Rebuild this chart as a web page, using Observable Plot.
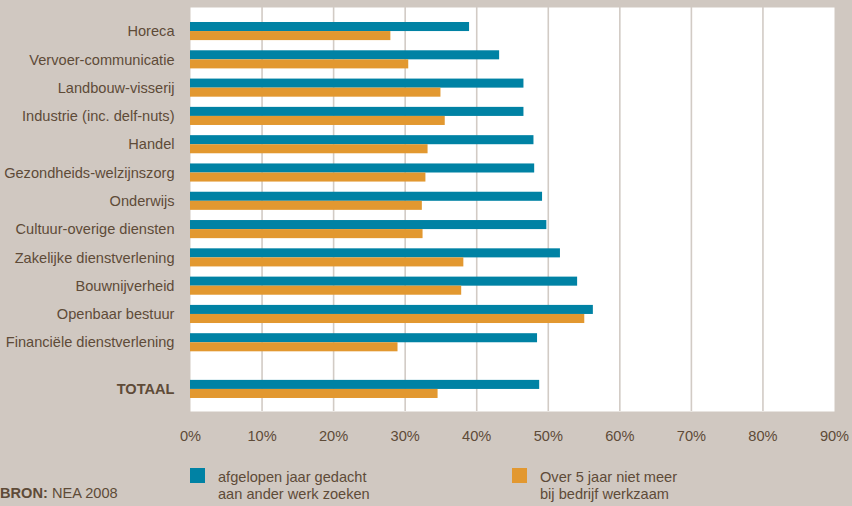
<!DOCTYPE html>
<html>
<head>
<meta charset="utf-8">
<script src="https://cdn.jsdelivr.net/npm/d3@7"></script>
<script src="https://cdn.jsdelivr.net/npm/@observablehq/plot@0.6"></script>
<style>
  html, body { margin: 0; padding: 0; background: #d0c8c1; }
  #wrap { position: relative; width: 852px; height: 506px; overflow: hidden;
    font-family: "Liberation Sans", Arial, sans-serif; color: #5e4b38; }
  #chart svg { display: block; }
  .leg { position: absolute; top: 468px; font-size: 14.6px; line-height: 17px; }
  .leg .sw { position: absolute; left: 0; top: 0; width: 15px; height: 15px; }
  .leg .tx { position: absolute; top: 1px; white-space: nowrap; }
  #bron { position: absolute; left: 0; top: 485px; font-size: 14.6px; }
</style>
</head>
<body>
<div id="wrap">
  <div id="chart"></div>
  <div class="leg" style="left:190px"><div class="sw" style="background:#0082a4"></div><div class="tx" style="left:28px">afgelopen jaar gedacht<br>aan ander werk zoeken</div></div>
  <div class="leg" style="left:512px"><div class="sw" style="background:#e29830"></div><div class="tx" style="left:28px">Over 5 jaar niet meer<br>bij bedrijf werkzaam</div></div>
  <div id="bron"><b>BRON:</b> NEA 2008</div>
</div>
<script>
const categories = [
  "Horeca", "Vervoer-communicatie", "Landbouw-visserij", "Industrie (inc. delf-nuts)",
  "Handel", "Gezondheids-welzijnszorg", "Onderwijs", "Cultuur-overige diensten",
  "Zakelijke dienstverlening", "Bouwnijverheid", "Openbaar bestuur",
  "Financiële dienstverlening", "TOTAAL"
];
const gedachtZoeken = [39.0, 43.2, 46.6, 46.6, 48.0, 48.1, 49.2, 49.8, 51.7, 54.1, 56.3, 48.5, 48.8];
const nietMeerWerkzaam = [28.0, 30.5, 35.0, 35.6, 33.2, 32.9, 32.4, 32.5, 38.2, 37.9, 55.1, 29.0, 34.6];
const xTicks = [0, 10, 20, 30, 40, 50, 60, 70, 80, 90];

const totalGap = 1.65; // layout: extra spacing before the total row
const rows = categories.map((c, i) => ({
  cat: c,
  pos: c === "TOTAAL" ? i - 1 + totalGap : i,
  a: gedachtZoeken[i] / 100,
  b: nietMeerWerkzaam[i] / 100
}));
const half = 0.32;
const font = '"Liberation Sans", Arial, sans-serif';

const chart = Plot.plot({
  width: 852,
  height: 460,
  marginLeft: 190,
  marginRight: 18,
  marginTop: 7,
  marginBottom: 49,
  style: { background: "transparent", fontFamily: font, color: "#5e4b38" },
  x: { domain: [0, 0.9], axis: null },
  y: { domain: [-0.85, 13.43], reverse: true, axis: null },
  marks: [
    Plot.frame({ fill: "white", stroke: null }),
    Plot.gridX(xTicks.slice(1, -1).map(t => t / 100), { stroke: "#d2cbc5", strokeOpacity: 1, strokeWidth: 1.6 }),
    Plot.axisX(xTicks.map(t => t / 100), { tickSize: 0, tickPadding: 19, fontSize: 14.6, tickFormat: d => Math.round(d * 100) + "%", fill: "#5e4b38" }),
    Plot.rect(rows, { x1: 0, x2: "a", y1: d => d.pos - half, y2: "pos", fill: "#0082a4" }),
    Plot.rect(rows, { x1: 0, x2: "b", y1: "pos", y2: d => d.pos + half, fill: "#e29830" }),
    Plot.text(rows.filter(d => d.cat !== "TOTAAL"), { x: 0, y: "pos", text: "cat", textAnchor: "end", dx: -16, fontSize: 14.6, fill: "#5e4b38" }),
    Plot.text(rows.filter(d => d.cat === "TOTAAL"), { x: 0, y: "pos", text: "cat", textAnchor: "end", dx: -16, fontSize: 14.6, fontWeight: "bold", fill: "#5e4b38" })
  ]
});
document.getElementById("chart").appendChild(chart);
</script>
</body>
</html>
